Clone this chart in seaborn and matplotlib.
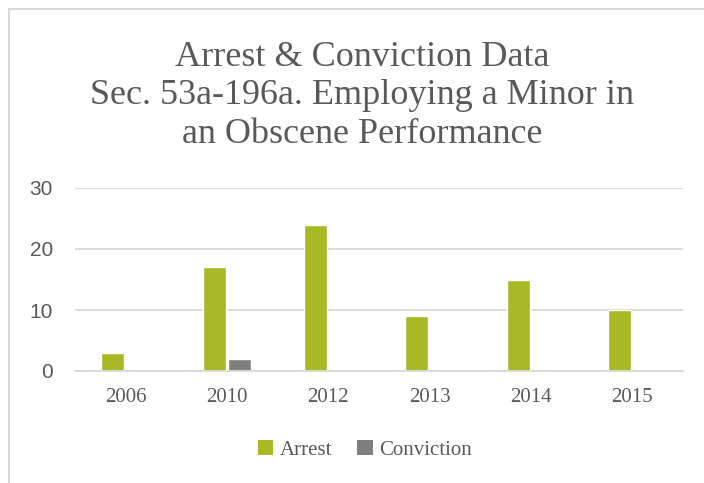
import matplotlib
matplotlib.use("Agg")
import matplotlib.pyplot as plt
import pandas as pd
import seaborn as sns
from matplotlib.lines import Line2D
from matplotlib.patches import Patch

years = ["2006", "2010", "2012", "2013", "2014", "2015"]
arrest = [3, 17, 24, 9, 15, 10]
conviction = [0, 2, 0, 0, 0, 0]
series = ["Arrest", "Conviction"]
colors = ["#A8B826", "#7F7F7F"]

df = pd.DataFrame({
    "year": years * 2,
    "count": arrest + conviction,
    "series": ["Arrest"] * len(years) + ["Conviction"] * len(years),
})

sns.set_theme(style="white")
plt.rcParams["font.family"] = ["Liberation Serif", "DejaVu Serif"]
text_gray = "#595959"

fig = plt.figure(figsize=(7.04, 4.83), dpi=100)
ax = fig.add_axes([75 / 704, 1 - 371 / 483, 608 / 704, 183 / 483])

sns.barplot(data=df, x="year", y="count", hue="series", palette=colors,
            width=0.51, gap=0.11, saturation=1, ax=ax, legend=False)

ax.set_ylim(0, 30)
ax.set_xlim(-0.5, 5.5)
ax.set_yticks([0, 10, 20, 30])
ax.yaxis.grid(True, color="#d9d9d9", linewidth=1.3)
ax.set_axisbelow(True)
for side in ["top", "right", "left"]:
    ax.spines[side].set_visible(False)
ax.spines["bottom"].set_color("#d9d9d9")
ax.spines["bottom"].set_linewidth(1.3)
ax.tick_params(length=0)
ax.set_xlabel("")
ax.set_ylabel("")
for lbl in ax.get_yticklabels():
    lbl.set_family(["Liberation Sans", "DejaVu Sans"])
    lbl.set_fontsize(15)
    lbl.set_color(text_gray)
ax.tick_params(axis="y", pad=16)
for lbl in ax.get_xticklabels():
    lbl.set_fontsize(15)
    lbl.set_color(text_gray)
ax.tick_params(axis="x", pad=12)

fig.text(0.514, 1 - 96 / 483,
         "Arrest & Conviction Data\nSec. 53a-196a. Employing a Minor in\nan Obscene Performance",
         ha="center", va="center", fontsize=26, color=text_gray, linespacing=1.22)

handles = [Patch(facecolor=c, edgecolor="none") for c in colors]
fig.legend(handles, series, loc="center", bbox_to_anchor=(0.518, 1 - 450 / 483),
           ncol=2, frameon=False, fontsize=15, labelcolor=text_gray,
           handlelength=0.75, handleheight=0.75, handletextpad=0.3, columnspacing=1.2)

# chart frame (top and left edges visible)
fig.add_artist(Line2D([9 / 704, 1.0], [1 - 9 / 483, 1 - 9 / 483], color="#d9d9d9", linewidth=1.5))
fig.add_artist(Line2D([9 / 704, 9 / 704], [0.0, 1 - 9 / 483], color="#d9d9d9", linewidth=1.5))

fig.savefig("out.png", dpi=100)
